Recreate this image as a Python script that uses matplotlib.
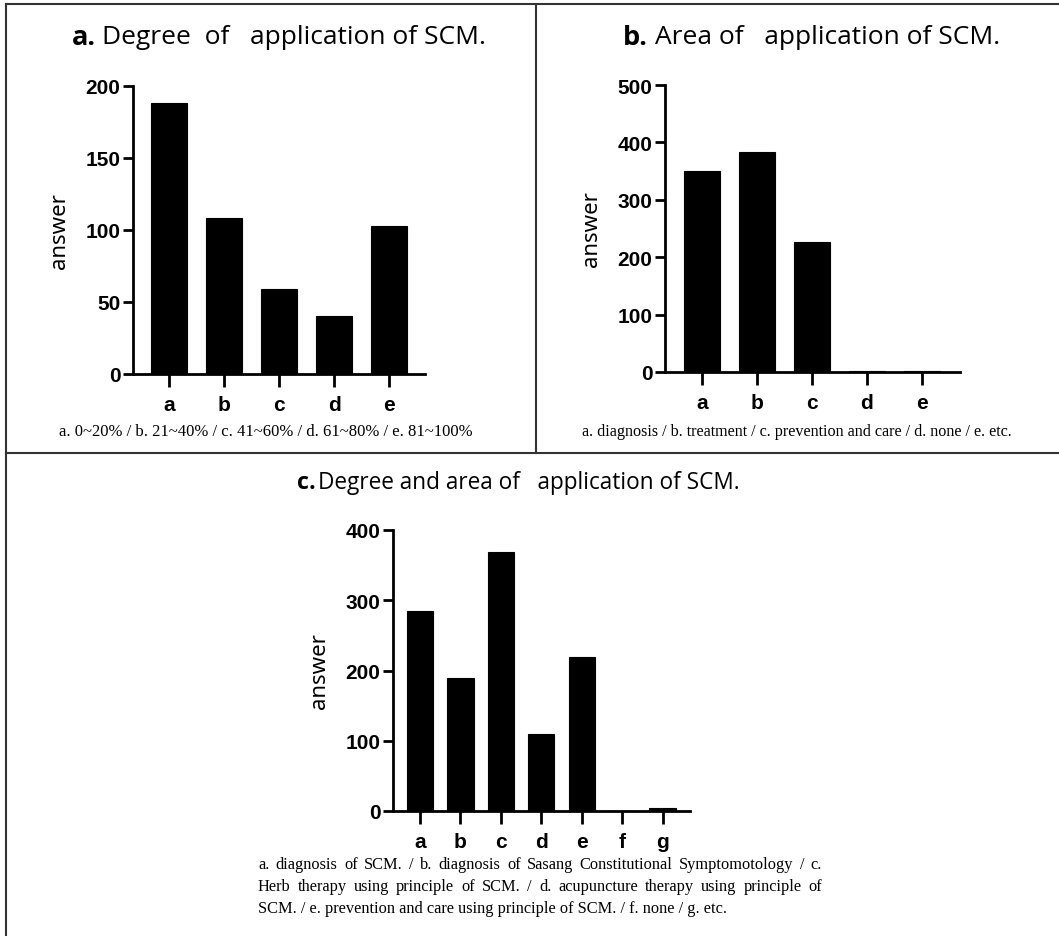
import matplotlib
matplotlib.use("Agg")
import matplotlib.pyplot as plt
from matplotlib.lines import Line2D

# panel a: degree of application
cats_a = ["a", "b", "c", "d", "e"]
vals_a = [188, 108, 59, 40, 103]
cap_a = "a. 0~20% / b. 21~40% / c. 41~60% / d. 61~80% / e. 81~100%"

# panel b: area of application
cats_b = ["a", "b", "c", "d", "e"]
vals_b = [350, 383, 227, 2, 1]
cap_b = "a. diagnosis / b. treatment / c. prevention and care / d. none / e. etc."

# panel c: degree and area of application
cats_c = ["a", "b", "c", "d", "e", "f", "g"]
vals_c = [284, 189, 369, 110, 219, 0, 4]
cap_c = ["a. diagnosis of SCM. / b. diagnosis of Sasang Constitutional Symptomotology / c.",
         "Herb therapy using principle of SCM. / d. acupuncture therapy using principle of",
         "SCM. / e. prevention and care using principle of SCM. / f. none / g. etc."]

W, H = 1059, 937
fig = plt.figure(figsize=(W / 100, H / 100), dpi=100)
SERIF = "Liberation Serif"


def px_axes(x0, x1, y0, y1):
    # y0 = bottom pixel row, y1 = top pixel row (from image top)
    return fig.add_axes([x0 / W, (H - y0) / H, (x1 - x0) / W, (y0 - y1) / H])


def draw_bars(ax, cats, vals, xlim, ymax, step):
    ax.bar(range(len(cats)), vals, width=0.65, color="black", edgecolor="black", linewidth=0.8)
    ax.set_xlim(*xlim)
    ax.set_ylim(0, ymax)
    ax.set_yticks(range(0, ymax + 1, step))
    ax.set_xticks(range(len(cats)))
    ax.set_xticklabels(cats)
    for s in ["top", "right"]:
        ax.spines[s].set_visible(False)
    for s in ["left", "bottom"]:
        ax.spines[s].set_linewidth(2.0)
    ax.tick_params(axis="y", length=7, width=2.0, pad=2)
    ax.tick_params(axis="x", length=9, width=2.0, pad=6)
    for lab in ax.get_xticklabels() + ax.get_yticklabels():
        lab.set_fontfamily("Liberation Sans")
        lab.set_fontweight("bold")
        lab.set_fontsize(15)
    ax.set_ylabel("answer", fontsize=16, fontfamily="Noto Sans", labelpad=11)


def title(xp, xr, y, prefix, rest, size):
    fig.text(xp / W, 1 - y / H, prefix, fontsize=size + 0.5, fontfamily="Open Sans",
             fontweight="bold", ha="left", va="center")
    fig.text(xr / W, 1 - y / H, rest, fontsize=size, fontfamily="Open Sans",
             ha="left", va="center")


ax_a = px_axes(133, 425, 375, 87)
draw_bars(ax_a, cats_a, vals_a, (-0.65, 4.65), 200, 50)

ax_b = px_axes(665, 960, 373, 86)
draw_bars(ax_b, cats_b, vals_b, (-0.67, 4.69), 500, 100)

ax_c = px_axes(393, 690, 812, 531)
draw_bars(ax_c, cats_c, vals_c, (-0.67, 6.68), 400, 100)

title(72, 102, 38, "a.", "Degree  of   application of SCM.", 19)
title(623, 655, 38, "b.", "Area of   application of SCM.", 19)
title(297, 318, 483, "c.", "Degree and area of   application of SCM.", 16.3)

fig.text(266 / W, 1 - 432 / H, cap_a, fontsize=12, fontfamily=SERIF,
         ha="center", va="center")
fig.text(797 / W, 1 - 432 / H, cap_b, fontsize=11.6, fontfamily=SERIF,
         ha="center", va="center")

# caption c: justified lines, last line left aligned
renderer = fig.canvas.get_renderer()
x_left, x_right = 258, 822
line_y = [865, 887, 909]
for i, line in enumerate(cap_c):
    y = 1 - line_y[i] / H
    if i == len(cap_c) - 1:
        fig.text(x_left / W, y, line, fontsize=11.8, fontfamily=SERIF, ha="left", va="center")
        continue
    words = line.split(" ")
    texts = [fig.text(0, y, w, fontsize=11.8, fontfamily=SERIF, ha="left", va="center")
             for w in words]
    widths = [t.get_window_extent(renderer).width for t in texts]
    gap = (x_right - x_left - sum(widths)) / (len(words) - 1)
    x = x_left
    for t, w in zip(texts, widths):
        t.set_x(x / W)
        x += w + gap

# panel frame lines
frame = dict(color="#333333", linewidth=1.5, transform=fig.transFigure)
fig.add_artist(Line2D([6 / W, 1], [1 - 5 / H, 1 - 5 / H], **frame))
fig.add_artist(Line2D([6 / W, 6 / W], [1 - 5 / H, 0], **frame))
fig.add_artist(Line2D([536 / W, 536 / W], [1 - 5 / H, 1 - 454 / H], **frame))
fig.add_artist(Line2D([6 / W, 1], [1 - 454 / H, 1 - 454 / H], **frame))

fig.savefig("out.png", dpi=100)
